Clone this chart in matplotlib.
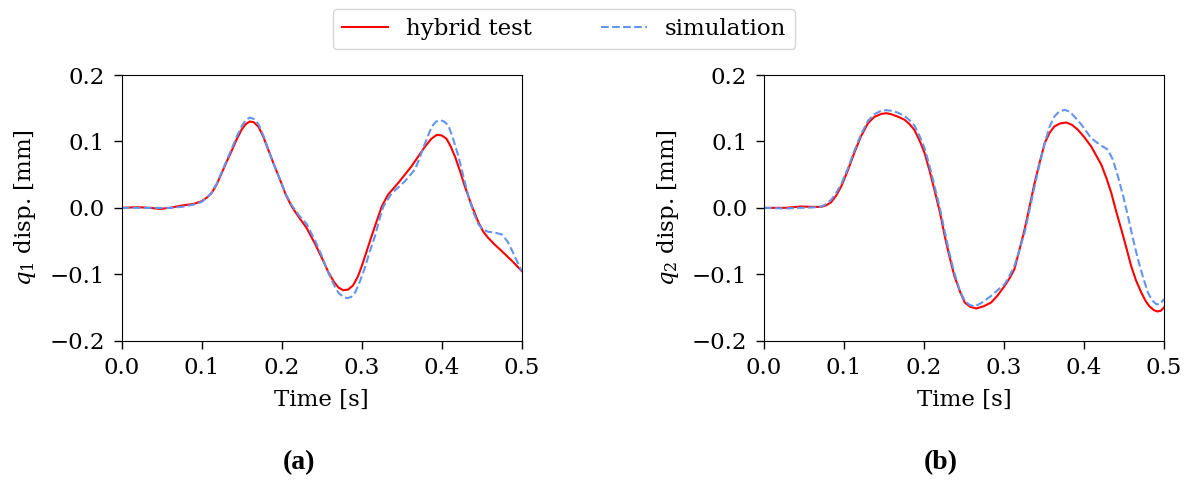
import matplotlib.pyplot as plt
import numpy as np

plt.rcParams['font.family'] = 'DejaVu Serif'
plt.rcParams['mathtext.fontset'] = 'dejavuserif'
plt.rcParams['font.size'] = 16.5

# (a) q1 displacement
t_a_hyb = [0.000, 0.020, 0.035, 0.048, 0.060, 0.075, 0.090, 0.100, 0.107, 0.1125,
           0.119, 0.125, 0.131, 0.1375, 0.144, 0.150, 0.155, 0.160, 0.165, 0.171,
           0.177, 0.183, 0.190, 0.198, 0.205, 0.2125, 0.222, 0.231, 0.242, 0.250,
           0.258, 0.265, 0.271, 0.277, 0.283, 0.289, 0.295, 0.300, 0.306, 0.3125,
           0.319, 0.325, 0.333, 0.346, 0.3625, 0.379, 0.387, 0.394, 0.400, 0.406,
           0.411, 0.4167, 0.423, 0.429, 0.437, 0.446, 0.452, 0.458, 0.466, 0.475,
           0.488, 0.500]
q1_hyb = [0.000, 0.001, 0.000, -0.0015, 0.000, 0.0035, 0.006, 0.010, 0.016, 0.0225,
          0.036, 0.0525, 0.069, 0.086, 0.104, 0.118, 0.126, 0.130, 0.129, 0.122,
          0.107, 0.088, 0.066, 0.042, 0.020, 0.002, -0.015, -0.030, -0.055, -0.075,
          -0.096, -0.111, -0.120, -0.124, -0.123, -0.117, -0.104, -0.088, -0.066, -0.042,
          -0.019, 0.002, 0.020, 0.038, 0.063, 0.092, 0.104, 0.110, 0.109, 0.104,
          0.093, 0.077, 0.055, 0.032, 0.005, -0.022, -0.036, -0.045, -0.055, -0.065,
          -0.080, -0.095]

t_a_sim = [0.000, 0.020, 0.040, 0.060, 0.075, 0.090, 0.100, 0.107, 0.1125, 0.119,
           0.125, 0.131, 0.1375, 0.144, 0.150, 0.155, 0.160, 0.165, 0.171, 0.177,
           0.183, 0.190, 0.198, 0.205, 0.2125, 0.222, 0.231, 0.242, 0.250, 0.258,
           0.265, 0.271, 0.277, 0.282, 0.287, 0.292, 0.298, 0.304, 0.310, 0.3167,
           0.322, 0.327, 0.3375, 0.354, 0.3667, 0.373, 0.379, 0.3875, 0.393, 0.398,
           0.403, 0.4083, 0.414, 0.4208, 0.427, 0.4333, 0.440, 0.446, 0.452, 0.458,
           0.466, 0.475, 0.482, 0.4875, 0.494, 0.500]
q1_sim = [0.000, 0.000, 0.000, 0.000, 0.0015, 0.005, 0.009, 0.016, 0.023, 0.037,
          0.054, 0.071, 0.089, 0.108, 0.123, 0.132, 0.136, 0.134, 0.126, 0.109,
          0.089, 0.066, 0.042, 0.021, 0.004, -0.012, -0.024, -0.050, -0.072, -0.097,
          -0.115, -0.128, -0.134, -0.136, -0.134, -0.127, -0.110, -0.090, -0.066, -0.042,
          -0.018, 0.002, 0.022, 0.040, 0.058, 0.077, 0.097, 0.122, 0.130, 0.132,
          0.130, 0.124, 0.105, 0.078, 0.048, 0.018, -0.008, -0.025, -0.033, -0.036,
          -0.037, -0.040, -0.050, -0.063, -0.080, -0.095]

# (b) q2 displacement
t_b_hyb = [0.000, 0.026, 0.0467, 0.060, 0.0717, 0.078, 0.084, 0.090, 0.0967, 0.105,
           0.113, 0.121, 0.130, 0.138, 0.1467, 0.153, 0.159, 0.168, 0.176, 0.182,
           0.188, 0.195, 0.2008, 0.207, 0.213, 0.220, 0.226, 0.232, 0.238, 0.245,
           0.251, 0.258, 0.2654, 0.275, 0.284, 0.292, 0.3008, 0.307, 0.313, 0.319,
           0.3258, 0.332, 0.3383, 0.345, 0.351, 0.357, 0.363, 0.370, 0.378, 0.385,
           0.3925, 0.400, 0.409, 0.4217, 0.428, 0.4342, 0.440, 0.4467, 0.453, 0.459,
           0.465, 0.4717, 0.477, 0.482, 0.4875, 0.4917, 0.496, 0.500]
q2_hyb = [0.000, 0.000, 0.002, 0.0015, 0.0015, 0.004, 0.0085, 0.018, 0.0325, 0.057,
          0.083, 0.107, 0.1275, 0.137, 0.1415, 0.1425, 0.141, 0.137, 0.1325, 0.126,
          0.1175, 0.100, 0.0825, 0.056, 0.0275, -0.007, -0.0425, -0.074, -0.1025, -0.126,
          -0.1425, -0.149, -0.1515, -0.148, -0.1425, -0.132, -0.1175, -0.106, -0.0925, -0.065,
          -0.0325, 0.002, 0.0375, 0.070, 0.0975, 0.113, 0.1225, 0.127, 0.1285, 0.125,
          0.1175, 0.107, 0.0925, 0.065, 0.045, 0.0225, -0.004, -0.0325, -0.060, -0.0875,
          -0.109, -0.1275, -0.140, -0.1485, -0.154, -0.156, -0.155, -0.150]

t_b_sim = [0.000, 0.026, 0.045, 0.060, 0.072, 0.078, 0.084, 0.090, 0.097, 0.105,
           0.113, 0.121, 0.130, 0.138, 0.147, 0.153, 0.160, 0.168, 0.176, 0.182,
           0.188, 0.195, 0.201, 0.207, 0.213, 0.220, 0.226, 0.232, 0.238, 0.245,
           0.251, 0.257, 0.2633, 0.272, 0.284, 0.292, 0.3008, 0.307, 0.313, 0.319,
           0.3258, 0.332, 0.3383, 0.345, 0.351, 0.357, 0.363, 0.369, 0.3758, 0.382,
           0.388, 0.397, 0.409, 0.420, 0.430, 0.436, 0.4425, 0.449, 0.455, 0.461,
           0.4675, 0.474, 0.480, 0.485, 0.4904, 0.495, 0.500]
q2_sim = [0.000, -0.001, 0.000, 0.0005, 0.002, 0.006, 0.012, 0.022, 0.037, 0.060,
          0.086, 0.110, 0.131, 0.141, 0.1465, 0.147, 0.146, 0.143, 0.138, 0.132,
          0.124, 0.107, 0.089, 0.063, 0.034, -0.001, -0.036, -0.069, -0.098, -0.125,
          -0.140, -0.146, -0.1485, -0.143, -0.1325, -0.124, -0.115, -0.102, -0.0875, -0.065,
          -0.0375, -0.003, 0.0325, 0.068, 0.0975, 0.122, 0.1375, 0.145, 0.1475, 0.145,
          0.1375, 0.125, 0.105, 0.095, 0.0875, 0.073, 0.0475, 0.018, -0.0125, -0.045,
          -0.0775, -0.105, -0.1275, -0.139, -0.145, -0.145, -0.1375]

y_ticks = [-0.2, -0.1, 0.0, 0.1, 0.2]
x_ticks = [0.0, 0.1, 0.2, 0.3, 0.4, 0.5]

fig = plt.figure(figsize=(11.9, 4.83), dpi=100)
ax1 = fig.add_axes([0.1023, 0.2946, 0.3361, 0.5501])
ax2 = fig.add_axes([0.6420, 0.2946, 0.3361, 0.5501])

panels = [
    (ax1, t_a_hyb, q1_hyb, t_a_sim, q1_sim, r'$q_1$ disp. [mm]', '(a)', 0.2513),
    (ax2, t_b_hyb, q2_hyb, t_b_sim, q2_sim, r'$q_2$ disp. [mm]', '(b)', 0.7908),
]

for ax, th, qh, ts, qs, ylab, tag, tag_x in panels:
    ax.plot(th, qh, color='red', linewidth=1.5, label='hybrid test')
    ax.plot(ts, qs, color='cornflowerblue', linewidth=1.5, linestyle='--', label='simulation')
    ax.set_xlim(0, 0.5)
    ax.set_ylim(-0.2, 0.2)
    ax.set_xticks(x_ticks)
    ax.set_yticks(y_ticks)
    ax.tick_params(length=6, width=1, pad=6)
    ax.set_xlabel('Time [s]', labelpad=7)
    ax.set_ylabel(ylab, labelpad=8)
    fig.text(tag_x, 0.042, tag, ha='center', va='center',
             fontsize=20, fontweight='bold', family='Liberation Serif')

handles, labels = ax1.get_legend_handles_labels()
fig.legend(handles, labels, loc='center', bbox_to_anchor=(0.474, 0.94), ncol=2,
           columnspacing=3.0, fontsize=16.5)

fig.savefig('out.png', dpi=100)
